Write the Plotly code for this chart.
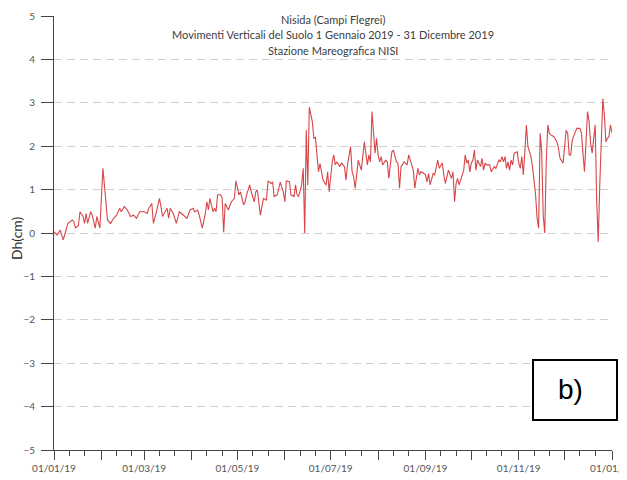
import datetime as dt
import plotly.graph_objects as go

# ---- data (day offset from 01/01/2019, vertical displacement in cm) ----
day = [0, 2, 4, 6, 8, 9, 12, 13, 14, 16, 17, 19, 20, 21, 22, 24, 25, 27, 28, 30,
       32, 34, 35, 37, 39, 41, 43, 44, 46, 48, 50, 52, 54, 56, 59, 61, 62, 64, 65, 67,
       69, 71, 74, 75, 76, 78, 80, 82, 85, 87,
       89, 91, 92, 94, 95, 97, 99, 100, 101, 102, 104, 105, 106, 107, 109, 110, 111, 112, 114, 115,
       116, 118, 119, 121, 122, 124, 125, 126, 128, 129, 131, 132, 133, 135, 136, 137, 139, 140, 142, 143,
       144, 146, 148, 150, 151, 152, 154, 155, 157, 158, 159, 160, 162, 163, 164, 165, 166, 167, 169, 170,
       171, 173, 174, 176, 178, 179, 180,
       182, 183, 184, 185, 187, 188, 190, 191, 192, 194, 195, 196, 197, 198, 199, 201, 202, 203, 205, 206,
       207, 208, 210, 211, 212, 213, 214, 215, 217, 218, 219, 221, 222, 224, 225, 226, 227, 229, 231, 232,
       234, 235, 236, 238, 239, 240, 242, 243, 244, 245, 246, 248, 249, 251, 252, 254, 255, 256, 258, 259,
       260, 261, 262, 263, 264, 265, 267, 268, 269, 270, 271,
       272, 273, 274, 275, 276, 277, 279, 280, 281, 282, 283, 285, 286, 288, 289, 291, 292, 293, 294, 295,
       296, 297, 298, 299, 300, 301, 303, 304, 305, 306, 307, 308, 309, 310, 311, 312, 313, 315, 316, 317,
       318, 319, 320, 321, 322, 323, 324, 325, 327, 328, 329, 330, 331, 333, 334, 335, 336, 337, 338, 339,
       341, 342, 344, 345, 346, 347, 348, 349, 350, 351, 352, 354, 355, 356, 357, 358, 359, 360, 361, 362,
       363, 364, 365]

dh = [0.03, -0.05, 0.07, -0.16, 0.08, 0.22, 0.30, 0.26, 0.11, 0.18, 0.49, 0.38, 0.22, 0.45, 0.22, 0.49, 0.41, 0.11, 0.38, 0.11,
      1.49, 0.76, 0.30, 0.22, 0.34, 0.41, 0.57, 0.49, 0.61, 0.53, 0.38, 0.41, 0.34, 0.49, 0.49, 0.45, 0.57, 0.68, 0.22, 0.49,
      0.80, 0.38, 0.57, 0.34, 0.57, 0.45, 0.22, 0.49, 0.41, 0.34,
      0.53, 0.57, 0.49, 0.53, 0.41, 0.11, 0.45, 0.72, 0.53, 0.80, 0.49, 0.57, 0.49, 0.88, 0.88, 0.80, 0.02, 0.68, 0.53, 0.65,
      0.72, 0.80, 1.20, 0.88, 0.95, 0.65, 0.72, 0.88, 1.11, 0.95, 0.72, 0.95, 0.99, 0.41, 0.65, 0.80, 0.76, 1.20, 1.14, 1.18,
      0.84, 0.88, 1.17, 0.95, 0.72, 1.20, 1.18, 0.88, 0.84, 1.11, 0.88, 0.84, 1.11, 1.49, 0.00, 2.37, 1.10, 2.90, 2.56, 2.18,
      2.20, 1.41, 1.60, 1.22, 1.10, 1.41, 0.95,
      1.64, 1.80, 1.57, 1.64, 1.53, 1.61, 1.53, 1.22, 1.57, 1.99, 1.41, 1.30, 1.03, 1.34, 1.68, 1.45, 1.72, 2.10, 1.57, 1.80,
      1.64, 2.80, 1.84, 2.18, 1.80, 1.64, 1.76, 1.57, 1.68, 1.64, 1.26, 1.87, 1.91, 1.64, 1.61, 1.03, 1.53, 1.64, 1.57, 1.80,
      1.57, 1.45, 1.03, 1.49, 1.34, 1.41, 1.37, 1.34, 1.18, 1.37, 1.11, 1.37, 1.34, 1.68, 1.49, 1.61, 1.34, 1.14, 1.45, 1.34,
      1.26, 1.41, 0.72, 1.14, 1.26, 1.11, 1.34, 1.45, 1.80, 1.61, 1.68,
      1.41, 1.61, 1.68, 1.91, 1.45, 1.68, 1.53, 1.72, 1.45, 1.61, 1.57, 1.57, 1.41, 1.53, 1.49, 1.68, 1.64, 1.76, 1.64, 1.76,
      1.49, 1.64, 1.45, 1.68, 1.57, 1.84, 1.87, 1.61, 1.49, 1.76, 1.34, 1.87, 2.49, 1.99, 1.87, 1.76, 1.53, 0.88, 0.34, 0.11,
      2.30, 1.87, 0.41, 0.00, 1.64, 2.49, 2.30, 2.26, 2.22, 2.14, 2.10, 1.95, 1.72, 1.61, 2.03, 2.37, 2.30, 1.80, 1.80, 2.14,
      2.33, 2.41, 2.41, 2.30, 1.84, 1.41, 2.10, 2.80, 2.57, 2.07, 1.84, 2.49, 0.72, -0.20, 1.11, 2.33, 3.10, 2.72, 2.10, 2.18,
      2.22, 2.49, 2.30]

title_lines = ["Nisida (Campi Flegrei)",
               "Movimenti Verticali del Suolo 1 Gennaio 2019 - 31 Dicembre 2019",
               "Stazione Mareografica NISI"]
y_label = "Dh(cm)"
panel_label = "b)"

base = dt.date(2019, 1, 1)
dates = [base + dt.timedelta(days=d) for d in day]

# axis tick configuration
month_starts = [dt.date(2019 + (m // 12), m % 12 + 1, 1) for m in range(13)]
month_text = [d.strftime("%d/%m/%y") if i % 2 == 0 else "" for i, d in enumerate(month_starts)]
minor_vals = []
for m in month_starts[:-1]:
    minor_vals += [m.replace(day=11), m.replace(day=21)]

# page body has an 8px margin: compensate so the plot lands at screen (54..612, 16..450)
OFF = 8
SX0, SX1, SY0, SY1 = 54, 612, 16, 450
W, H = 627 - OFF, 480 - OFF
L, T = SX0 - OFF, SY0 - OFF
R = W - (SX1 - OFF)
B = H - (SY1 - OFF)
pw, ph = SX1 - SX0, SY1 - SY0


def px(x):
    return (x - SX0) / pw


def py(y):
    return (SY1 - y) / ph


fig = go.Figure()
fig.add_trace(go.Scatter(x=dates, y=dh, mode="lines",
                         line=dict(color="#d6464a", width=1.1), hoverinfo="skip"))

tick_font = dict(family="Lato, Liberation Sans, sans-serif", size=10, color="#555555")

fig.update_layout(
    width=W, height=H,
    margin=dict(l=L, r=R, t=T, b=B, autoexpand=False),
    plot_bgcolor="white", paper_bgcolor="white",
    showlegend=False,
    xaxis=dict(
        range=[base, dt.date(2020, 1, 1)], automargin=False,
        tickmode="array", tickvals=month_starts, ticktext=month_text,
        ticklabeloverflow="allow",
        ticks="outside", ticklen=9, tickcolor="#444444", tickwidth=1,
        minor=dict(tickmode="array", tickvals=minor_vals, ticks="outside",
                   ticklen=5, tickcolor="#444444", tickwidth=1, showgrid=False),
        showline=True, linecolor="#444444", linewidth=1,
        showgrid=False, zeroline=False,
        tickfont=tick_font,
    ),
    yaxis=dict(
        range=[-5, 5], tickmode="linear", tick0=-5, dtick=1, automargin=False,
        ticks="outside", ticklen=12, tickcolor="#444444", tickwidth=1,
        ticklabelstandoff=4,
        showline=True, linecolor="#444444", linewidth=1,
        showgrid=True, gridcolor="#d0d0d0", griddash="8px,5px", gridwidth=1,
        zeroline=False,
        tickfont=tick_font,
    ),
)

# title lines
for text, ty in zip(title_lines, [20, 35, 50]):
    fig.add_annotation(text=text, xref="paper", yref="paper",
                       x=0.5, y=py(ty), xanchor="center", yanchor="middle",
                       showarrow=False,
                       font=dict(family="Lato, Liberation Sans, sans-serif", size=11, color="#404040"))

# y axis title
fig.add_annotation(text=y_label, xref="paper", yref="paper",
                   x=px(16), y=py(238), textangle=-90,
                   xanchor="center", yanchor="middle", showarrow=False,
                   font=dict(family="Lato, Liberation Sans, sans-serif", size=14, color="#303030"))

# panel label box
fig.add_shape(type="rect", xref="paper", yref="paper",
              x0=px(533), x1=px(617), y0=py(420), y1=py(360),
              line=dict(color="black", width=2), fillcolor="white", layer="above")
fig.add_annotation(text=panel_label, xref="paper", yref="paper",
                   x=px(570), y=py(390),
                   xanchor="center", yanchor="middle", showarrow=False,
                   font=dict(family="Liberation Sans, Arial, sans-serif", size=28, color="black"))

fig.write_html("out.html")
